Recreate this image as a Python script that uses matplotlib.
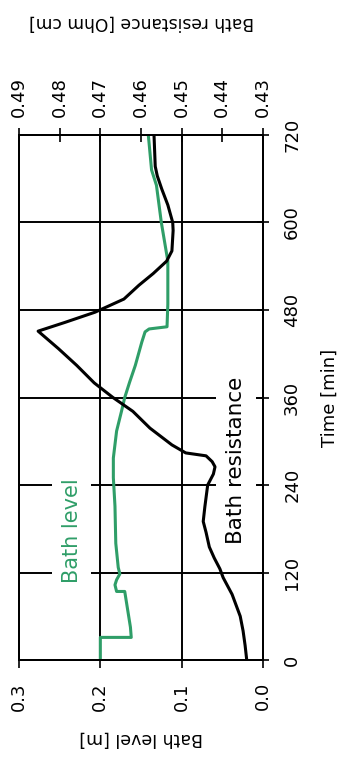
#!/usr/bin/env python3
"""Bath level and bath resistance over time, drawn turned a quarter turn
(time runs bottom -> top, values run right -> left)."""

import matplotlib

matplotlib.use("Agg")

import matplotlib.pyplot as plt

# bath level [m]
LEVEL_T = [0, 31, 31, 45, 66, 80, 94, 94, 103, 110, 118, 127, 160, 211, 250,
           277, 314, 341, 360, 381, 404, 436, 450, 454, 457, 488, 547, 600,
           651, 672, 720]
LEVEL_M = [0.200, 0.200, 0.162, 0.163, 0.166, 0.168, 0.170, 0.180, 0.182,
           0.180, 0.176, 0.178, 0.181, 0.182, 0.184, 0.184, 0.180, 0.174,
           0.170, 0.164, 0.157, 0.149, 0.145, 0.140, 0.118, 0.117, 0.117,
           0.125, 0.131, 0.137, 0.141]

# bath resistance [Ohm cm]
RES_T = [0, 20, 40, 60, 90, 113, 125, 140, 155, 175, 190, 210, 240, 255, 265,
         272, 280, 284, 295, 318, 341, 360, 380, 404, 427, 451, 463, 477, 495,
         514, 530, 547, 561, 589, 600, 624, 646, 664, 677, 720]
RES_OHM = [0.4340, 0.4344, 0.4349, 0.4356, 0.4376, 0.4398, 0.4406, 0.4420,
           0.4432, 0.4440, 0.4447, 0.4443, 0.4436, 0.4422, 0.4418, 0.4425,
           0.4440, 0.4490, 0.4524, 0.4578, 0.4620, 0.4669, 0.4715, 0.4758,
           0.4803, 0.4853, 0.4787, 0.4713, 0.4642, 0.4605, 0.4570, 0.4537,
           0.4524, 0.4521, 0.4522, 0.4534, 0.4549, 0.4560, 0.4565, 0.4568]

TIME_TICKS = [0, 120, 240, 360, 480, 600, 720]
LEVEL_TICKS = [0.0, 0.1, 0.2, 0.3]
RES_TICKS = [0.43, 0.44, 0.45, 0.46, 0.47, 0.48, 0.49]

GREEN = "#2f9e68"
FONT = 13


def main() -> None:
    plt.rcParams["font.family"] = ["DejaVu Sans"]

    fig = plt.figure(figsize=(3.43, 7.62), dpi=100)
    ax = fig.add_axes([19 / 343, 1 - 660 / 762, 244 / 343, 525 / 762])

    # level on the (turned) horizontal axis, time upwards
    ax.plot(LEVEL_M, LEVEL_T, color=GREEN, lw=2.2, zorder=2)
    ax.set_xlim(0.3, 0.0)
    ax.set_ylim(0, 720)
    ax.set_xticks(LEVEL_TICKS)
    ax.set_xticklabels([f"{v:.1f}" for v in LEVEL_TICKS])
    ax.set_yticks(TIME_TICKS)
    ax.yaxis.tick_right()
    ax.yaxis.set_label_position("right")
    ax.grid(True, color="black", lw=1.4)

    ax.tick_params(axis="x", direction="out", length=6, width=1.2,
                   pad=10, labelsize=FONT, labelrotation=90)
    ax.tick_params(axis="y", direction="inout", length=9, width=1.2,
                   pad=10, labelsize=FONT, labelrotation=90)
    for lab in ax.get_yticklabels():
        lab.set_va("center")

    ax.set_xlabel("Bath level [m]", fontsize=12.5, rotation=180, va="center")
    ax.xaxis.set_label_coords(0.5, -0.149)
    ax.set_ylabel("Time [min]", fontsize=13, rotation=90, va="center")
    ax.yaxis.set_label_coords(1.275, 0.5)

    box = dict(boxstyle="square,pad=0.45", fc="white", ec="none")
    ax.text(0.235, 178, "Bath level", color=GREEN, fontsize=15, rotation=90,
            ha="center", va="center", bbox=box, zorder=3)
    ax.text(0.0332, 274, "Bath resistance", color="black", fontsize=15.5,
            rotation=90, ha="center", va="center", bbox=box, zorder=3)

    # resistance shares the time axis, drawn along the top
    ax2 = ax.twiny()
    ax2.plot(RES_OHM, RES_T, color="black", lw=2.2)
    ax2.set_xlim(0.49, 0.43)
    ax2.set_xticks(RES_TICKS)
    ax2.set_xticklabels([f"{v:.2f}" for v in RES_TICKS])
    ax2.tick_params(axis="x", direction="inout", length=10, width=1.2,
                    pad=8, labelsize=FONT, labelrotation=90)
    ax2.set_xlabel("Bath resistance [Ohm cm]", fontsize=12.3, rotation=180,
                   va="center")
    ax2.xaxis.set_label_coords(0.5, 1.215)

    for a in (ax, ax2):
        for sp in a.spines.values():
            sp.set_linewidth(1.4)

    fig.savefig("out.png", dpi=100)
    plt.close(fig)


if __name__ == "__main__":
    main()
